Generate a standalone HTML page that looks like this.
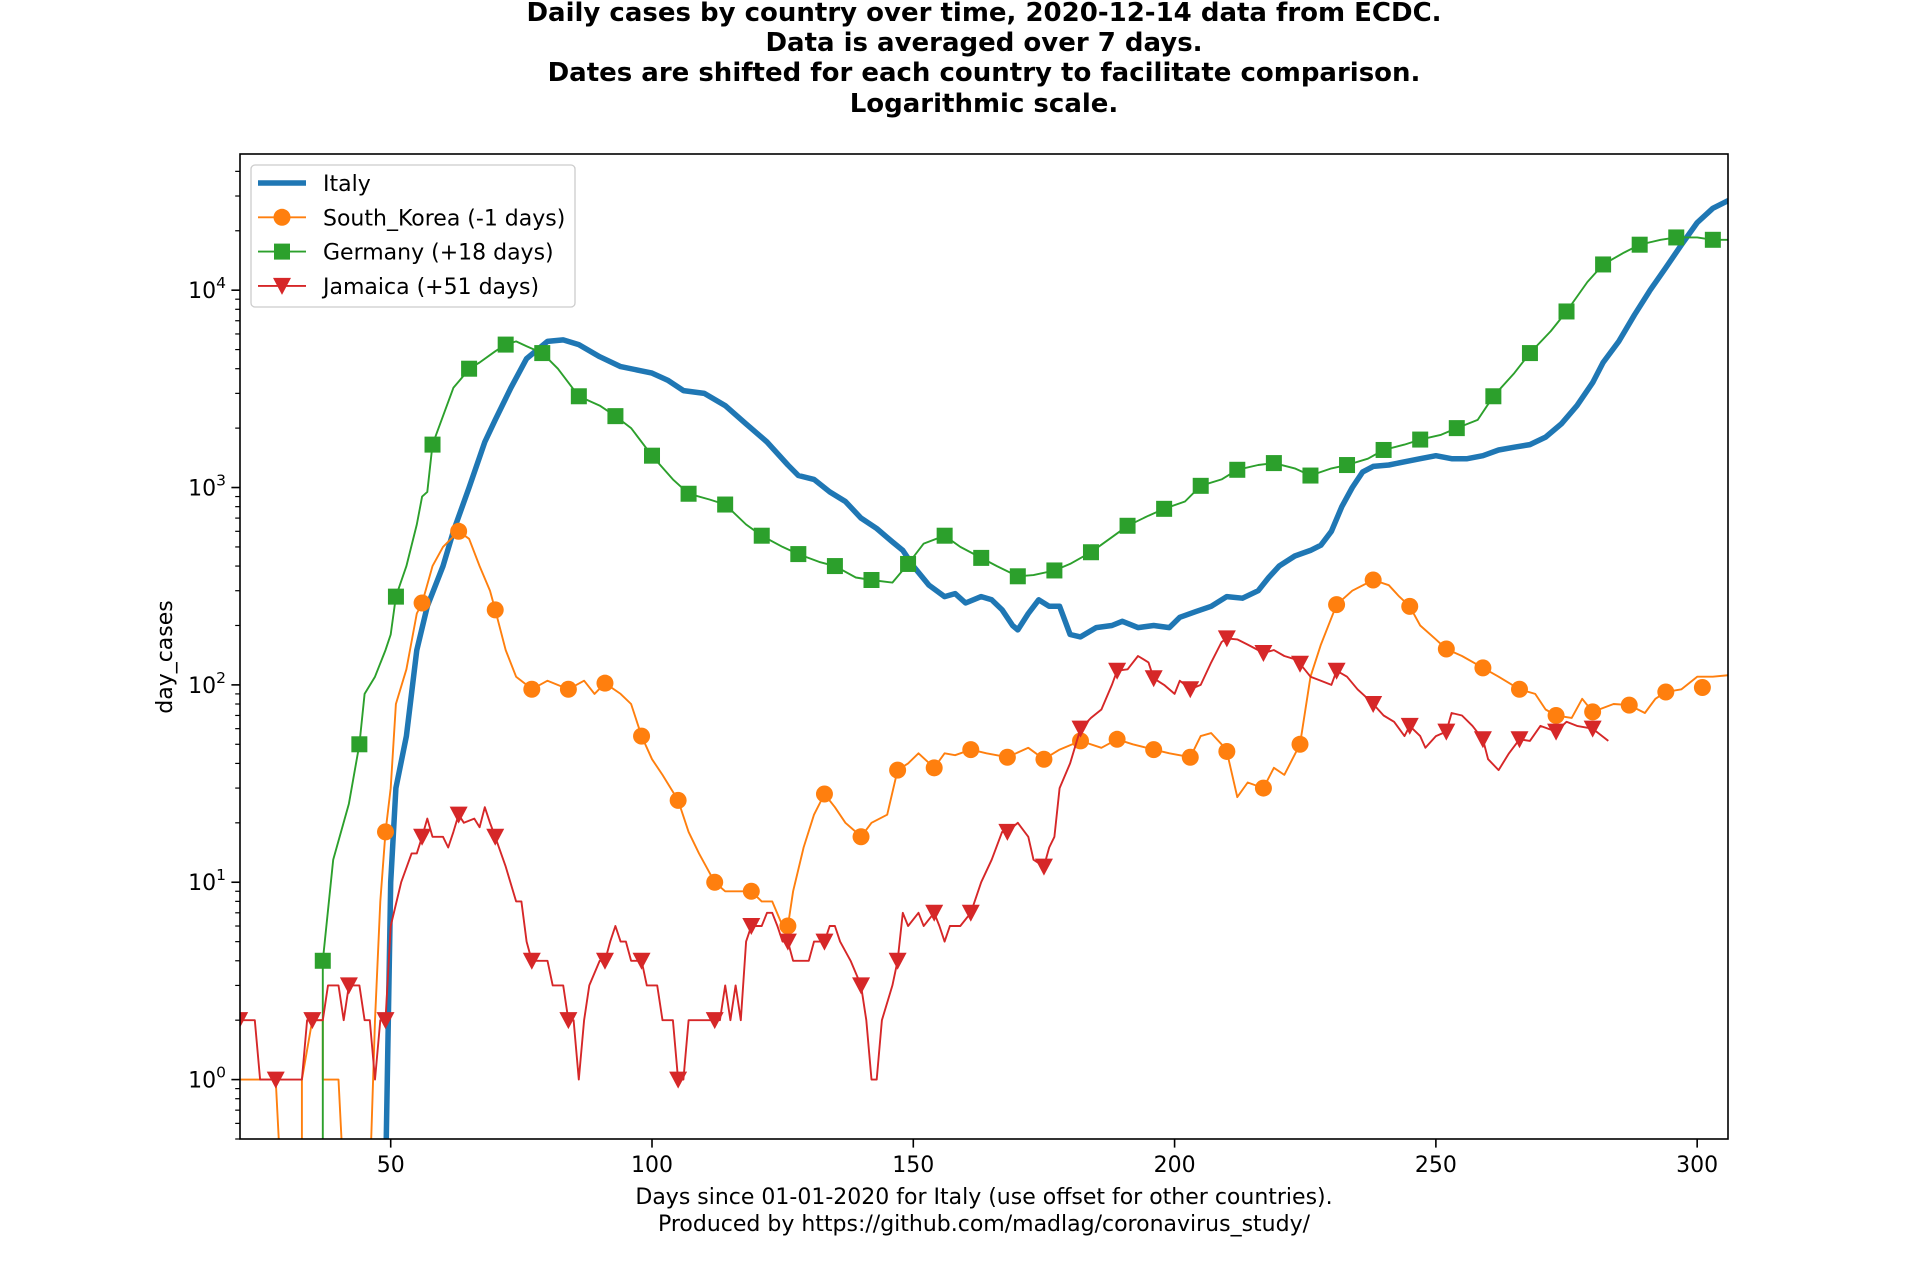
<!DOCTYPE html>
<html><head><meta charset="utf-8"><style>
body{margin:0;background:#fff}
svg{display:block;font-family:"DejaVu Sans","Liberation Sans",sans-serif}
</style></head><body>
<svg id="chart" width="1920" height="1280" viewBox="0 0 1920 1280" xmlns="http://www.w3.org/2000/svg">
<defs><clipPath id="plotclip"><rect x="240" y="154" width="1488" height="985"/></clipPath></defs>
<g font-weight="bold" font-size="26" text-anchor="middle" fill="#000">
<text x="984" y="21">Daily cases by country over time, 2020-12-14 data from ECDC.</text>
<text x="984" y="51">Data is averaged over 7 days.</text>
<text x="984" y="81">Dates are shifted for each country to facilitate comparison.</text>
<text x="984" y="112">Logarithmic scale.</text>
</g>
<g id="series" clip-path="url(#plotclip)"></g>
<rect x="240" y="154" width="1488" height="985" fill="none" stroke="#000" stroke-width="1.6"/>
<g id="axes"></g>
<g font-size="22" text-anchor="middle">
<text x="984" y="1204">Days since 01-01-2020 for Italy (use offset for other countries).</text>
<text x="984" y="1231">Produced by https://github.com/madlag/coronavirus_study/</text>
</g>
<text font-size="22" text-anchor="middle" transform="translate(172,657) rotate(-90)">day_cases</text>
<g id="legend"></g>
</svg>
<script>
const xTicks=[50,100,150,200,250,300];
const yDecades=[0,1,2,3,4];
const italyDays=[49,50,51,53,55,57,60,62,65,68,70,73,76,80,83,86,90,94,98,100,103,106,110,114,118,122,126,128,131,134,137,140,143,146,148,150,153,156,158,160,163,165,167,169,170,172,174,176,178,180,182,185,188,190,193,196,199,201,204,207,210,213,216,218,220,223,226,228,230,232,234,236,238,241,244,247,250,253,256,259,262,265,268,271,274,277,280,282,285,288,291,294,297,300,303,306];
const italyVals=[0.3,10,30,55,150,250,400,600,1000,1700,2200,3200,4500,5500,5600,5300,4600,4100,3900,3800,3500,3100,3000,2600,2100,1700,1300,1150,1100,950,850,700,620,530,480,400,320,280,290,260,280,270,240,200,190,230,270,250,250,180,175,195,200,210,195,200,195,220,235,250,280,275,300,350,400,450,480,510,600,800,1000,1200,1280,1300,1350,1400,1450,1400,1400,1450,1550,1600,1650,1800,2100,2600,3400,4300,5500,7500,10000,13000,17000,22000,26000,28500];
const koreaDays=[21,28,29,33,33,35,37,37,40,41,46,47,48,49,50,51,53,55,56,58,60,63,65,67,69,70,72,74,76,77,80,84,87,89,91,94,96,98,100,102,105,107,109,112,114,119,121,123,125,126,127,129,131,133,135,137,139,140,142,145,147,149,151,154,156,158,161,164,168,172,175,178,182,186,189,192,196,199,203,205,207,209,210,212,214,217,219,221,224,226,228,231,234,238,241,243,245,247,250,252,255,259,262,266,269,271,273,276,278,280,284,287,290,292,294,297,300,303,306];
const koreaVals=[1,1,0.3,0.3,1,2,2,1,1,0.3,0.3,2,8,18,30,80,120,230,260,400,500,600,550,400,300,240,150,110,100,95,105,95,105,90,102,90,80,55,42,35,26,18,14,10,9,9,8,8,6,6,9,15,22,28,24,20,18,17,20,22,37,40,45,38,45,44,47,45,43,48,42,47,52,48,53,50,47,45,43,55,57,50,46,27,32,30,38,35,50,110,160,255,300,340,320,280,250,200,170,152,140,122,110,95,90,75,70,68,85,73,80,79,72,85,92,95,110,110,112];
const koreaMarkDays=[49,56,63,70,77,84,91,98,105,112,119,126,133,140,147,154,161,168,175,182,189,196,203,210,217,224,231,238,245,252,259,266,273,280,287,294,301];
const koreaMarkVals=[18,260,600,240,95,95,102,55,26,10,9,6,28,17,37,38,47,43,42,52,53,47,43,46,30,50,255,340,250,152,122,95,70,73,79,92,97];
const germanyDays=[37,37,39,42,44,45,47,49,50,51,53,55,56,57,58,60,62,64,65,67,70,72,74,76,79,82,86,90,93,96,100,104,107,111,114,118,121,125,128,132,135,139,142,146,149,152,156,159,163,166,170,173,177,180,184,188,191,195,198,202,205,209,212,216,219,223,226,230,233,237,240,244,247,251,254,258,261,265,268,272,275,279,282,286,289,293,296,300,303,306];
const germanyVals=[0.3,4,13,25,50,90,110,150,180,280,400,650,900,950,1650,2300,3200,3700,4000,4300,4900,5300,5500,5200,4800,4000,2900,2600,2300,2000,1450,1100,930,870,820,650,570,500,460,420,400,350,340,330,410,520,570,500,440,400,355,360,380,410,470,560,640,720,780,850,1020,1100,1230,1300,1330,1250,1150,1250,1300,1400,1550,1650,1750,1850,2000,2200,2900,3800,4800,6200,7800,11000,13500,15500,17000,18000,18500,18500,18000,18000];
const germanyMarkDays=[37,44,51,58,65,72,79,86,93,100,107,114,121,128,135,142,149,156,163,170,177,184,191,198,205,212,219,226,233,240,247,254,261,268,275,282,289,296,303];
const germanyMarkVals=[4,50,280,1650,4000,5300,4800,2900,2300,1450,930,820,570,460,400,340,410,570,440,355,380,470,640,780,1020,1230,1330,1150,1300,1550,1750,2000,2900,4800,7800,13500,17000,18500,18000];
const jamaicaDays=[21,24,25,33,34,37,38,40,41,42,44,45,46,47,48,49,50,52,54,55,56,57,58,60,61,62,63,64,66,67,68,69,70,72,74,75,76,77,80,81,83,84,85,86,87,88,90,91,92,93,94,95,96,98,99,101,102,104,105,106,107,110,112,113,114,115,116,117,118,119,121,122,123,124,125,126,127,130,131,133,134,135,136,138,140,141,142,143,144,146,147,148,149,151,152,154,155,156,157,159,161,163,165,167,168,170,172,173,175,176,177,178,180,182,184,186,188,189,191,193,195,196,198,200,201,203,205,207,209,210,212,214,216,217,219,221,223,224,226,228,230,231,233,235,237,238,240,242,244,245,247,248,250,252,253,255,257,259,260,262,264,266,268,270,273,275,277,280,283];
const jamaicaVals=[2,2,1,1,2,2,3,3,2,3,3,2,2,1,2,2,6,10,14,14,17,21,17,17,15,18,22,20,21,19,24,20,17,12,8,8,5,4,4,3,3,2,2,1,2,3,4,4,5,6,5,5,4,4,3,3,2,2,1,1,2,2,2,2,3,2,3,2,5,6,6,7,7,6,5,5,4,4,5,5,6,6,5,4,3,2,1,1,2,3,4,7,6,7,6,7,6,5,6,6,7,10,13,18,18,20,17,13,12,15,17,30,40,60,68,75,100,118,120,140,130,108,100,90,105,95,100,130,165,172,170,160,150,145,150,140,135,128,110,105,100,118,110,95,85,80,70,65,55,62,55,48,55,58,72,70,62,53,42,37,45,53,52,62,58,65,62,60,52];
const jamaicaMarkDays=[21,28,35,42,49,56,63,70,77,84,91,98,105,112,119,126,133,140,147,154,161,168,175,182,189,196,203,210,217,224,231,238,245,252,259,266,273,280];
const jamaicaMarkVals=[2,1,2,3,2,17,22,17,4,2,4,4,1,2,6,5,5,3,4,7,7,18,12,60,118,108,95,172,145,128,118,80,62,58,53,53,58,60];

const X0=240,X1=1728,Y0=154,Y1=1139,XMIN=21.16,XMAX=305.9,LMIN=Math.log10(0.5),LMAX=4.69;
function xs(d){return X0+(d-XMIN)/(XMAX-XMIN)*(X1-X0);}
function ys(v){return Y1-(Math.log10(v)-LMIN)/(LMAX-LMIN)*(Y1-Y0);}
const NS='http://www.w3.org/2000/svg';
function mk(tag,attrs,parent){const e=document.createElementNS(NS,tag);for(const k in attrs)e.setAttribute(k,attrs[k]);parent.appendChild(e);return e;}
const ser=document.getElementById('series'),ax=document.getElementById('axes'),lg=document.getElementById('legend');
function drawLine(days,vals,color,w,name){
  const d=days.map((x,i)=>(i?'L':'M')+xs(x).toFixed(1)+','+ys(vals[i]).toFixed(1)).join('');
  const p=mk('path',{d:d,fill:'none',stroke:color,'stroke-width':w,'stroke-linejoin':'round'},ser);
  
  
}
function marker(kind,cx,cy,color,parent){
  let e;
  if(kind==='o')e=mk('circle',{cx:cx,cy:cy,r:8.5,fill:color},parent);
  else if(kind==='s')e=mk('rect',{x:cx-8,y:cy-8,width:16,height:16,fill:color},parent);
  else e=mk('path',{d:`M${cx-9},${cy-8}L${cx+9},${cy-8}L${cx},${cy+9}Z`,fill:color},parent);
  return e;
}
function drawMarks(days,vals,color,kind,name){
  days.forEach((d,i)=>{const m=marker(kind,xs(d),ys(vals[i]),color,ser);
    
    });
}
drawLine(italyDays,italyVals,'#1f77b4',5.5,'italy-line');
drawLine(koreaDays,koreaVals,'#ff7f0e',1.9,'south-korea-line');
drawMarks(koreaMarkDays,koreaMarkVals,'#ff7f0e','o','south-korea-marker');
drawLine(germanyDays,germanyVals,'#2ca02c',1.9,'germany-line');
drawMarks(germanyMarkDays,germanyMarkVals,'#2ca02c','s','germany-marker');
drawLine(jamaicaDays,jamaicaVals,'#d62728',1.9,'jamaica-line');
drawMarks(jamaicaMarkDays,jamaicaMarkVals,'#d62728','v','jamaica-marker');
xTicks.forEach(t=>{const x=xs(t);
  const l=mk('line',{x1:x,x2:x,y1:Y1,y2:Y1+8.6,stroke:'#000','stroke-width':1.6},ax);
  
  
  const tx=mk('text',{x:x,y:Y1+33,'font-size':22,'text-anchor':'middle'},ax);tx.textContent=t;
  
  });
for(let dec=-1;dec<=4;dec++){for(let m=1;m<=9;m++){const v=m*Math.pow(10,dec);const L=Math.log10(v);
  if(L<LMIN-1e-9||L>LMAX)continue;const y=ys(v);
  const l=mk('line',{x1:X0,x2:X0-(m===1?8.6:4.8),y1:y,y2:y,stroke:'#000','stroke-width':m===1?1.6:1.2},ax);
  
  }}
yDecades.forEach(dec=>{const y=ys(Math.pow(10,dec));
  const t=mk('text',{x:X0-14,y:y+8,'font-size':22,'text-anchor':'end'},ax);
  
  
  t.innerHTML='10<tspan dy="-10" font-size="15.5">'+dec+'</tspan>';});
mk('rect',{x:251,y:165,width:324,height:142,rx:4,fill:'#fff','fill-opacity':0.8,stroke:'#ccc','stroke-width':1.3},lg);
const legNames=['Italy','South_Korea (-1 days)','Germany (+18 days)','Jamaica (+51 days)'];
const legColors=['#1f77b4','#ff7f0e','#2ca02c','#d62728'];
const legKinds=['','o','s','v'];
legNames.forEach((n,i)=>{const y=183+i*34.3;
  const g=mk('g',{},lg);
  
  
  mk('line',{x1:258,x2:306,y1:y,y2:y,stroke:legColors[i],'stroke-width':i?1.9:5.5},g);
  if(legKinds[i])marker(legKinds[i],282,y,legColors[i],g);
  const t=mk('text',{x:323,y:y+8,'font-size':22},g);t.textContent=n;});
</script>
</body></html>
